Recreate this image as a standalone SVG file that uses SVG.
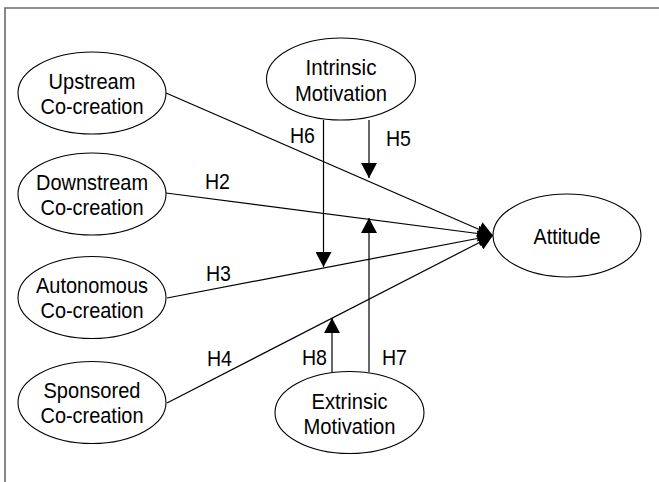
<svg xmlns="http://www.w3.org/2000/svg" width="659" height="482" viewBox="0 0 659 482">
<defs>
<style>
.node ellipse{fill:#fff;stroke:#000;stroke-width:1.1}
text{font-family:"Liberation Sans",Arial,sans-serif;font-size:22px;fill:#000;text-anchor:middle}
.lbl{text-anchor:start}
.edge{stroke:#000;stroke-width:1.2;fill:none}
.frame{stroke:#6a6a6a;stroke-width:1.6;fill:none}
</style>
<marker id="ah" markerUnits="userSpaceOnUse" viewBox="0 0 15 16" refX="15" refY="8" markerWidth="15" markerHeight="16" orient="auto">
<path d="M0,0 L15,8 L0,16 z" fill="#000"/>
</marker>
</defs>
<rect width="659" height="482" fill="#fff"/>
<path class="frame" d="M5,482 L5,8 L659,8"/>

<g id="connectors">
<line class="edge" x1="166" y1="93" x2="493" y2="235.5" marker-end="url(#ah)"/>
<line class="edge" x1="166" y1="193" x2="493" y2="235.5" marker-end="url(#ah)"/>
<line class="edge" x1="167" y1="298" x2="493" y2="235.5" marker-end="url(#ah)"/>
<line class="edge" x1="167" y1="403" x2="493" y2="235.5" marker-end="url(#ah)"/>
<line class="edge" x1="323.5" y1="120" x2="323.5" y2="267" marker-end="url(#ah)"/>
<line class="edge" x1="369" y1="120" x2="369" y2="178" marker-end="url(#ah)"/>
<line class="edge" x1="369" y1="372" x2="369" y2="218" marker-end="url(#ah)"/>
<line class="edge" x1="332" y1="372" x2="332" y2="318" marker-end="url(#ah)"/>
<text class="lbl" x="290" y="143" textLength="25" lengthAdjust="spacingAndGlyphs">H6</text>
<text class="lbl" x="386" y="146" textLength="25" lengthAdjust="spacingAndGlyphs">H5</text>
<text class="lbl" x="205" y="189" textLength="25" lengthAdjust="spacingAndGlyphs">H2</text>
<text class="lbl" x="206" y="281" textLength="25" lengthAdjust="spacingAndGlyphs">H3</text>
<text class="lbl" x="207" y="366" textLength="25" lengthAdjust="spacingAndGlyphs">H4</text>
<text class="lbl" x="302" y="365" textLength="25" lengthAdjust="spacingAndGlyphs">H8</text>
<text class="lbl" x="382" y="365" textLength="25" lengthAdjust="spacingAndGlyphs">H7</text>
</g>

<g id="upstream" class="node">
<ellipse cx="92" cy="93" rx="74" ry="41"/>
<text x="92" y="89" textLength="87" lengthAdjust="spacingAndGlyphs">Upstream</text>
<text x="92" y="114" textLength="103" lengthAdjust="spacingAndGlyphs">Co-creation</text>
</g>
<g id="downstream" class="node">
<ellipse cx="92" cy="194" rx="74" ry="41"/>
<text x="92" y="190" textLength="112" lengthAdjust="spacingAndGlyphs">Downstream</text>
<text x="92" y="215" textLength="103" lengthAdjust="spacingAndGlyphs">Co-creation</text>
</g>
<g id="autonomous" class="node">
<ellipse cx="92" cy="297.5" rx="74" ry="41"/>
<text x="92" y="293" textLength="112" lengthAdjust="spacingAndGlyphs">Autonomous</text>
<text x="92" y="318" textLength="103" lengthAdjust="spacingAndGlyphs">Co-creation</text>
</g>
<g id="sponsored" class="node">
<ellipse cx="92" cy="402.5" rx="74" ry="41"/>
<text x="92" y="398" textLength="97" lengthAdjust="spacingAndGlyphs">Sponsored</text>
<text x="92" y="423" textLength="103" lengthAdjust="spacingAndGlyphs">Co-creation</text>
</g>
<g id="intrinsic" class="node">
<ellipse cx="341" cy="79" rx="74.5" ry="41"/>
<text x="341" y="75" textLength="71" lengthAdjust="spacingAndGlyphs">Intrinsic</text>
<text x="341" y="101" textLength="92" lengthAdjust="spacingAndGlyphs">Motivation</text>
</g>
<g id="extrinsic" class="node">
<ellipse cx="349.5" cy="412.5" rx="74.5" ry="41"/>
<text x="349.5" y="408.5" textLength="76" lengthAdjust="spacingAndGlyphs">Extrinsic</text>
<text x="349.5" y="434" textLength="92" lengthAdjust="spacingAndGlyphs">Motivation</text>
</g>
<g id="attitude" class="node">
<ellipse cx="567" cy="235.5" rx="74" ry="41.5"/>
<text x="567" y="244" textLength="67" lengthAdjust="spacingAndGlyphs">Attitude</text>
</g>
</svg>
